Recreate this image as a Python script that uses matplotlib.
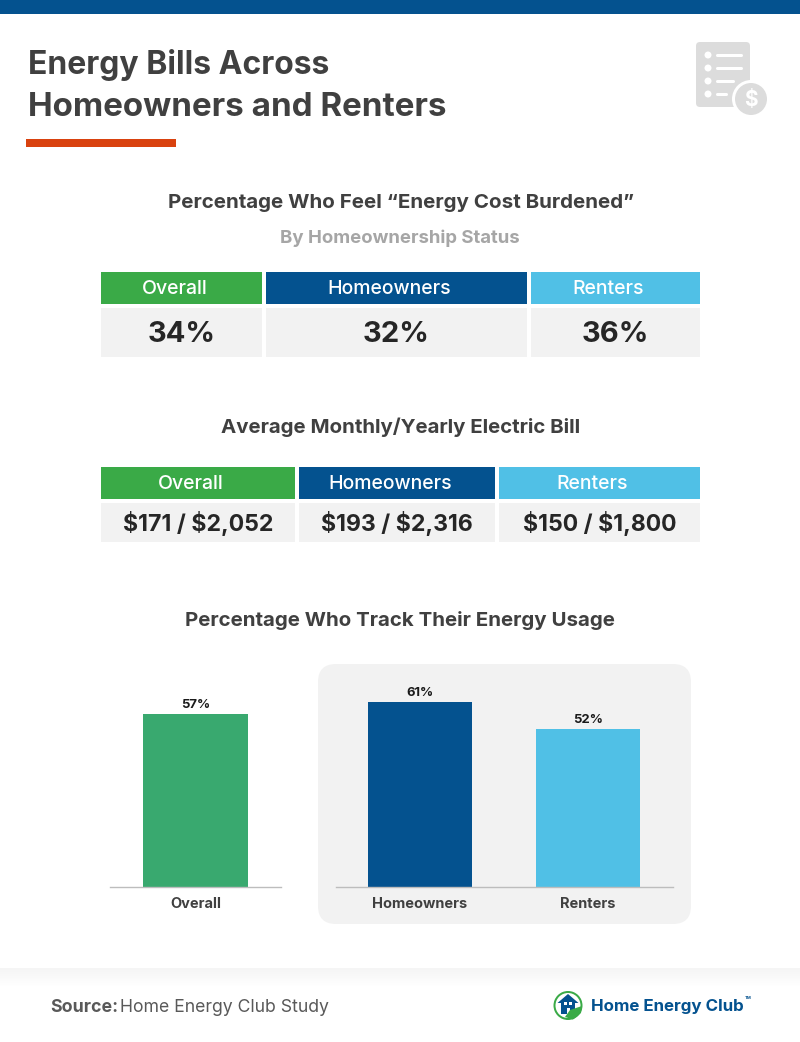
import matplotlib
matplotlib.use("Agg")
import matplotlib.pyplot as plt
from matplotlib.patches import Rectangle, FancyBboxPatch, Circle, Wedge

plt.rcParams["font.family"] = ["Inter", "DejaVu Sans"]

# ------------------------------------------------------------
# DATA
# ------------------------------------------------------------
groups = ["Overall", "Homeowners", "Renters"]
burdened = ["34%", "32%", "36%"]
bills = ["$171 / $2,052", "$193 / $2,316", "$150 / $1,800"]
track_overall = [57]
track_split = [61, 52]

GREEN = "#3aaa47"
BAR_GREEN = "#39a96f"
BLUE = "#04528f"
LIGHT = "#50c0e6"
GRAY = "#f2f2f2"
DARK = "#404040"
header_colors = [GREEN, BLUE, LIGHT]

W, H = 800, 1042
fig = plt.figure(figsize=(W / 100, H / 100), dpi=100, facecolor="white")

# full page axes in pixel coordinates, y going down
page = fig.add_axes([0, 0, 1, 1])
page.set_xlim(0, W)
page.set_ylim(H, 0)
page.axis("off")


def box(x0, y0, x1, y1, color, **kw):
    page.add_patch(Rectangle((x0, y0), x1 - x0, y1 - y0, fc=color, ec="none", **kw))


def round_box(x0, y0, x1, y1, r, color, **kw):
    page.add_patch(FancyBboxPatch((x0 + r, y0 + r), x1 - x0 - 2 * r, y1 - y0 - 2 * r,
                                  boxstyle=f"round,pad={r},rounding_size={r}",
                                  fc=color, ec="none", **kw))


def label(x, y, s, size, color=DARK, weight="bold", ha="center", **kw):
    page.text(x, y, s, fontsize=size, color=color, fontweight=weight,
              ha=ha, va="center", parse_math=False, **kw)


# ------------------------------------------------------------
# HEADER
# ------------------------------------------------------------
box(0, 0, W, 14, BLUE)
label(28, 65, "Energy Bills Across", 23, ha="left")
label(28, 107, "Homeowners and Renters", 23.85, ha="left")
box(26, 139, 176, 147, "#d9420f")

# list icon
ICON = "#dcdcdc"
round_box(696, 42, 750, 107, 4, ICON)
for yy, x_end in zip([55, 68, 81, 94], [741, 741, 733, 726]):
    page.add_patch(Circle((708, yy), 3.5, fc="white", ec="none"))
    page.plot([717, x_end], [yy, yy], color="white", lw=2.2, solid_capstyle="round")
page.add_patch(Circle((751, 99), 19, fc="white", ec="none"))
page.add_patch(Circle((751, 99), 16, fc=ICON, ec="none"))
label(751, 99.5, "$", 15, color="white")

# ------------------------------------------------------------
# TABLES
# ------------------------------------------------------------
label(401.5, 202.5, "Percentage Who Feel “Energy Cost Burdened”", 14.8)
label(400, 238, "By Homeownership Status", 13.4, color="#a6a6a6")

cols1 = [(101, 262), (266, 527), (531, 700)]
for (x0, x1), name, val, c in zip(cols1, groups, burdened, header_colors):
    box(x0, 272, x1, 304, c)
    box(x0, 308, x1, 357, GRAY)
    # header words sit a little left of the cell centre in the original
    label((x0 + x1) / 2 - 7, 288.5, name, 14, color="white", weight="medium")
    label((x0 + x1) / 2, 334, val, 21, color="#262626")

label(401, 427, "Average Monthly/Yearly Electric Bill", 14.7)

cols2 = [(101, 295), (299, 495), (499, 700)]
for (x0, x1), name, val, c in zip(cols2, groups, bills, header_colors):
    box(x0, 467, x1, 499, c)
    box(x0, 503, x1, 542, GRAY)
    label((x0 + x1) / 2 - 7, 484, name, 14, color="white", weight="medium")
    label((x0 + x1) / 2, 523, val, 16.6, color="#262626")

label(400, 620, "Percentage Who Track Their Energy Usage", 14.75)

# ------------------------------------------------------------
# BAR CHARTS
# ------------------------------------------------------------
round_box(318, 664, 691, 924, 18, GRAY)


def bar_axes(x0, x1, y_top, names, values, colors, xlim):
    ax = fig.add_axes([x0 / W, 1 - 887 / H, (x1 - x0) / W, (887 - y_top) / H])
    ax.patch.set_alpha(0)
    ax.bar(range(len(values)), values, width=0.622, color=colors)
    ax.set_xlim(*xlim)
    ax.set_ylim(0, (887 - y_top) / 3.03)
    for s in ["top", "left", "right"]:
        ax.spines[s].set_visible(False)
    ax.spines["bottom"].set_color("#bdbdbd")
    ax.spines["bottom"].set_linewidth(1.0)
    ax.set_yticks([])
    ax.set_xticks(range(len(values)))
    ax.set_xticklabels(names, fontsize=10.5, fontweight="bold", color=DARK)
    ax.tick_params(axis="x", length=0, pad=7)
    for i, v in enumerate(values):
        ax.annotate(f"{v}%", (i, v), xytext=(0, 2.4), textcoords="offset points",
                    ha="center", va="bottom", fontsize=9.4, fontweight="bold", color="#1a1a1a")
    return ax


bar_axes(110, 281, 680, groups[:1], track_overall, [BAR_GREEN], (-0.509, 0.509))
bar_axes(336, 673, 680, groups[1:], track_split, [BLUE, LIGHT], (-0.5, 1.506))

# ------------------------------------------------------------
# FOOTER
# ------------------------------------------------------------
for i in range(18):
    box(0, 968 + i, W, 969 + i, "#f5f5f5", alpha=1 - i / 18)

page.text(50, 1007, "Source:", fontsize=12.8, color="#595959", fontweight="bold", ha="left", va="center")
page.text(120, 1007, "Home Energy Club Study", fontsize=12.7, color="#595959", ha="left", va="center")

# logo
page.add_patch(Wedge((568, 1005.5), 14.5, 0, 360, width=2, fc="#3aaa47", ec="none"))
page.add_patch(plt.Polygon([(557.5, 1003), (568, 994), (578.5, 1003)], fc=BLUE, ec="none"))
box(561, 1002, 575, 1014, BLUE)
box(564, 1002, 567, 1005, "white")
box(569, 1002, 572, 1005, "white")
box(566.5, 1008, 569.5, 1014, "white")
page.add_patch(plt.Polygon([(565, 1017), (570, 1010), (582, 1006), (581, 1013), (573, 1019.5)],
                           fc="#3aaa47", ec="none"))
label(591, 1006, "Home Energy Club", 12.2, color=BLUE, ha="left")
label(745, 998, "TM", 3, color=BLUE, ha="left")

fig.savefig("out.png", dpi=100, facecolor="white")
